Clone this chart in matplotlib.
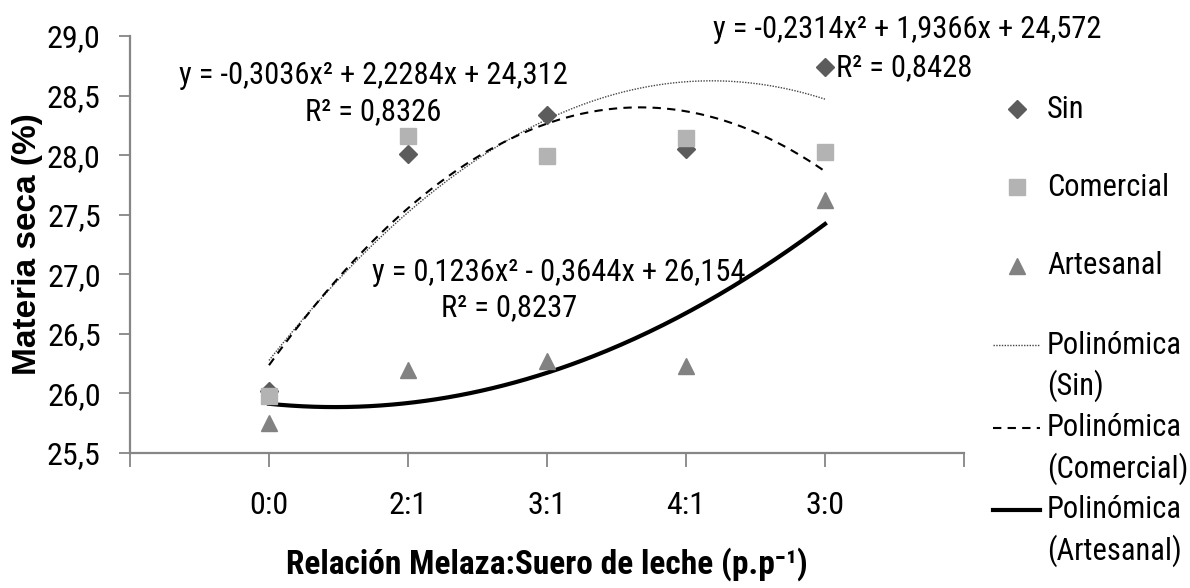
import matplotlib
matplotlib.use("Agg")
import matplotlib.pyplot as plt
import numpy as np
from matplotlib.lines import Line2D

# Categories (molasses : whey ratio) and measured dry matter (%)
categories = ["0:0", "2:1", "3:1", "4:1", "3:0"]
sin_vals = [26.02, 28.01, 28.34, 28.05, 28.74]
comercial_vals = [25.98, 28.16, 27.99, 28.14, 28.03]
artesanal_vals = [25.75, 26.20, 26.27, 26.23, 27.62]

# Second-order polynomial trend coefficients (a, b, c) for y = a x^2 + b x + c
sin_coef = [-0.2314, 1.9366, 24.572]
comercial_coef = [-0.3036, 2.2284, 24.312]
artesanal_coef = [0.1236, -0.3644, 26.154]
sin_r2 = 0.8428
comercial_r2 = 0.8326
artesanal_r2 = 0.8237

NARROW = ["Roboto Condensed", "DejaVu Sans"]
BOLD = ["Liberation Sans", "DejaVu Sans"]
AXIS_GRAY = "#868686"
C_SIN = "#5c5c5c"
C_COM = "#b3b3b3"
C_ART = "#828282"

FS = 22

W, H = 1190, 588
fig = plt.figure(figsize=(W / 100, H / 100), dpi=100)
ax_l, ax_r, ax_t, ax_b = 130, 964, 36, 453
ax = fig.add_axes([ax_l / W, 1 - ax_b / H, (ax_r - ax_l) / W, (ax_b - ax_t) / H])

x = np.arange(1, len(categories) + 1)

ax.plot(x, sin_vals, linestyle="none", marker="D", ms=9, color=C_SIN, zorder=3)
ax.plot(x, comercial_vals, linestyle="none", marker="s", ms=11, color=C_COM, zorder=4)
ax.plot(x, artesanal_vals, linestyle="none", marker="^", ms=12, color=C_ART, zorder=3)


def fmt(v, nd):
    return f"{abs(v):.{nd}f}".replace(".", ",")


def poly_label(c):
    a, b, k = c
    sa = "-" if a < 0 else ""
    sb = "-" if b < 0 else "+"
    sk = "-" if k < 0 else "+"
    return f"y = {sa}{fmt(a, 4)}x² {sb} {fmt(b, 4)}x {sk} {fmt(k, 3)}"


SIN_STYLE = dict(color="#444444", lw=1.0, linestyle=(0, (1, 1)))
COM_STYLE = dict(color="black", lw=1.5, linestyle=(0, (4, 3)))
ART_STYLE = dict(color="black", lw=3)

xs = np.linspace(1, 5, 200)
ax.plot(xs, np.polyval(sin_coef, xs), zorder=2, **SIN_STYLE)
ax.plot(xs, np.polyval(comercial_coef, xs), zorder=2, **COM_STYLE)
ax.plot(xs, np.polyval(artesanal_coef, xs), zorder=2, **ART_STYLE)

yt = np.arange(25.5, 29.01, 0.5)
ax.set_xlim(0, 6)
ax.set_ylim(25.5, 29.0)
ax.set_yticks(yt)
ax.set_yticklabels([fmt(v, 1) for v in yt], family=NARROW, fontsize=23)
ax.set_xticks(np.arange(0, 7))
ax.set_xticklabels([""] + categories + [""], family=NARROW, fontsize=23)
ax.tick_params(axis="both", color=AXIS_GRAY, width=1.3, length=8, pad=13)
ax.tick_params(axis="x", length=10, pad=17)
for s in ["top", "right"]:
    ax.spines[s].set_visible(False)
for s in ["left", "bottom"]:
    ax.spines[s].set_color(AXIS_GRAY)
    ax.spines[s].set_linewidth(1.6)


def fpos(px, py):
    return px / W, 1 - py / H


# Trend equations and R² values
eq_texts = [
    ((373, 76), poly_label(comercial_coef)),
    ((373, 112), f"R² = {fmt(comercial_r2, 4)}"),
    ((907, 30), poly_label(sin_coef)),
    ((904, 68), f"R² = {fmt(sin_r2, 4)}"),
    ((559, 272), poly_label(artesanal_coef)),
    ((509, 308), f"R² = {fmt(artesanal_r2, 4)}"),
]
for (px, py), s in eq_texts:
    fig.text(*fpos(px, py), s, family=NARROW, fontsize=FS, ha="center", va="center")

# Axis titles
fig.text(28 / W, 1 - ((ax_t + ax_b) / 2) / H, "Materia seca (%)", family=BOLD, weight="bold",
         fontsize=24, rotation=90, ha="center", va="center")
fig.text(((ax_l + ax_r) / 2) / W, 1 - 564 / H, "Relación Melaza:Suero de leche (p.p⁻¹)",
         family=NARROW, weight="bold", fontsize=24, ha="center", va="center")

# Legend drawn in figure coordinates
legend_items = [
    (109, dict(marker="D", ms=9, color=C_SIN, linestyle="none"), ["Sin"]),
    (187, dict(marker="s", ms=11, color=C_COM, linestyle="none"), ["Comercial"]),
    (266, dict(marker="^", ms=12, color=C_ART, linestyle="none"), ["Artesanal"]),
    (345, SIN_STYLE, ["Polinómica", "(Sin)"]),
    (428, COM_STYLE, ["Polinómica", "(Comercial)"]),
    (510, ART_STYLE, ["Polinómica", "(Artesanal)"]),
]
for yy, style, lines in legend_items:
    fy = 1 - yy / H
    if style.get("linestyle") == "none":
        fig.add_artist(Line2D([1017 / W], [fy], transform=fig.transFigure, **style))
    else:
        fig.add_artist(Line2D([993 / W, 1040 / W], [fy, fy], transform=fig.transFigure, **style))
    for i, ln in enumerate(lines):
        fig.text(1047 / W, 1 - (yy + i * 41) / H, ln, family=NARROW, fontsize=FS,
                 ha="left", va="center")

fig.savefig("out.png", dpi=100)
